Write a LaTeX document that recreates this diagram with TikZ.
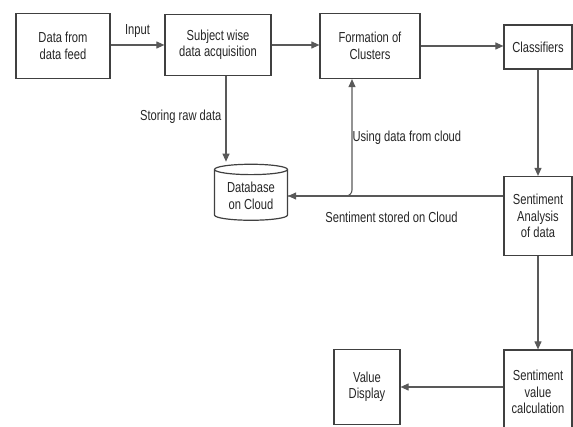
\documentclass[tikz,border=0pt]{standalone}
\usepackage{fontspec}
\setmainfont{Liberation Sans}[FakeStretch=0.77]
\usetikzlibrary{arrows.meta,shapes.geometric}

\tikzset{
  box/.style={draw=black!75, line width=1.2pt, fill=white, align=center,
    inner sep=2pt, text=black!85},
  link/.style={draw=black!65, line width=1.1pt,
    -{Triangle[length=8pt,width=7pt]}},
  lbl/.style={text=black!85, inner sep=1pt}
}

\begin{document}
\begin{tikzpicture}[x=1pt,y=-1pt,font=\fontsize{14.5}{16.5}\selectfont]
            \useasboundingbox (0,0) rectangle (573,427);
            \clip (0,0) rectangle (573,427);
            % boxes
            \node[box, minimum width=94pt, minimum height=65pt] (feed) at (63,46) {Data from\\data feed};
            \node[box, minimum width=106pt, minimum height=61pt] (acquire) at (218,45) {Subject wise\\data acquisition};
            \node[box, minimum width=100pt, minimum height=65pt] (clusters) at (370,46) {Formation of\\Clusters};
            \node[box, minimum width=68pt, minimum height=44pt] (classify) at (538,47) {Classifiers};
            \node[box, cylinder, shape border rotate=90, aspect=0.2,
              minimum width=73pt, minimum height=56pt] (cloud) at (251,196) {Database\\on Cloud};
            \node[box, minimum width=68pt, minimum height=79pt] (analysis) at (538,216) {Sentiment\\Analysis\\of data};
            \node[box, minimum width=68pt, minimum height=84pt] (calc) at (538,392) {Sentiment\\value\\calculation};
            \node[box, minimum width=66pt, minimum height=75pt] (display) at (367,387) {Value\\Display};
            % connectors
            \draw[link] (feed.east |- acquire.west) -- (acquire.west) node[lbl, midway, above=6pt] {Input};
            \draw[link] (acquire.east) -- (acquire.east -| clusters.west);
            \draw[link] (clusters.east) -- (clusters.east -| classify.west);
            \draw[link] ([xshift=8pt]acquire.south) -- ([xshift=8pt, yshift=2pt]acquire.south |- cloud.north)
              node[lbl, pos=0.47, left=3pt] {Storing raw data};
            \draw[link] (analysis.west |- cloud.east) -- (cloud.east)
              node[lbl, pos=0.52, below=14pt] {Sentiment stored on Cloud};
            \draw[link, rounded corners=6pt] (cloud.east) -| ([xshift=-18pt]clusters.south)
              node[lbl, pos=0.75, right=-1pt] {Using data from cloud};
            \draw[link] (classify.south) -- (analysis.north);
            \draw[link] (analysis.south) -- (calc.north);
            \draw[link] (calc.west |- display.east) -- (display.east);
          \end{tikzpicture}
\end{document}
